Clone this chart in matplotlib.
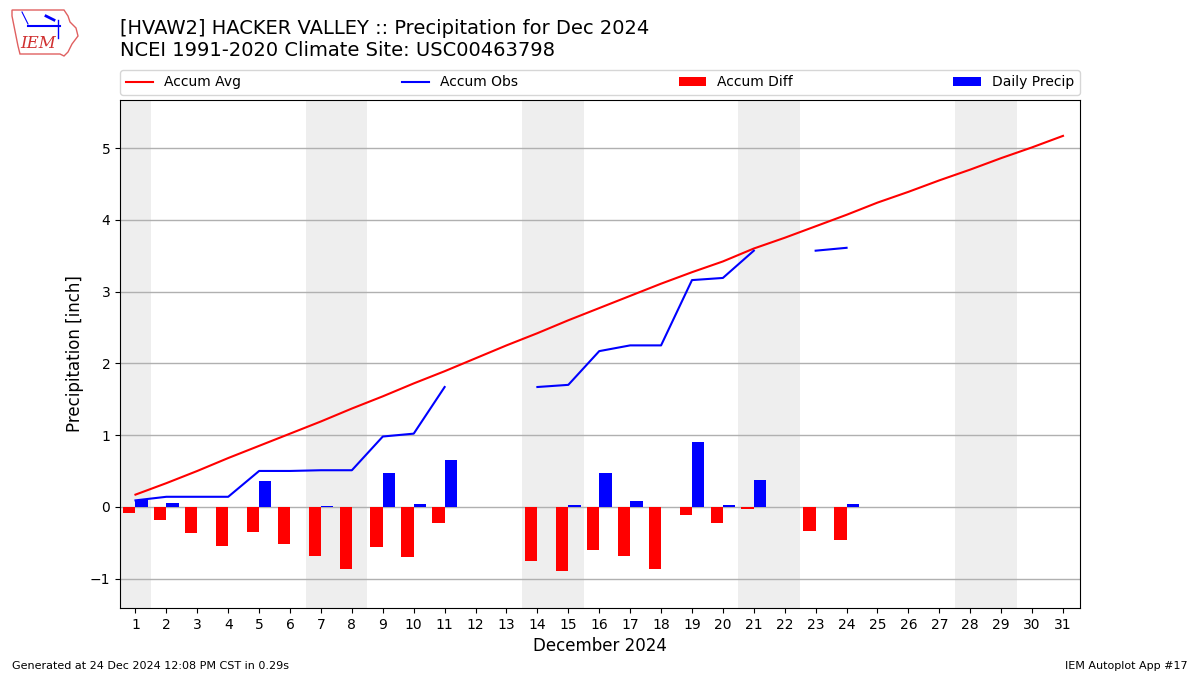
import numpy as np
import matplotlib
matplotlib.use("Agg")
import matplotlib.pyplot as plt
from matplotlib.patches import Polygon

days = list(range(1, 32))
accum_avg = [0.17, 0.33, 0.50, 0.68, 0.85, 1.02, 1.19, 1.37, 1.54, 1.72,
             1.89, 2.07, 2.25, 2.42, 2.60, 2.77, 2.94, 3.11, 3.27, 3.42,
             3.60, 3.75, 3.91, 4.07, 4.24, 4.39, 4.55, 4.70, 4.86, 5.01, 5.17]
nan = np.nan
daily_precip = [0.09, 0.05, 0.00, 0.00, 0.36, 0.00, 0.01, 0.00, 0.47, 0.04,
                0.65, nan, nan, 0.00, 0.03, 0.47, 0.08, 0.00, 0.91, 0.03,
                0.38, nan, 0.00, 0.04] + [nan] * 7
weekends = [1, 7, 8, 14, 15, 21, 22, 28, 29]
title_lines = ["[HVAW2] HACKER VALLEY :: Precipitation for Dec 2024",
               "NCEI 1991-2020 Climate Site: USC00463798"]

# accumulated observed, with gaps where data missing
accum_obs = []
tot = 0.0
for p in daily_precip:
    if np.isnan(p):
        accum_obs.append(nan)
    else:
        tot += p
        accum_obs.append(round(tot, 2))
accum_diff = [o - a if not np.isnan(o) else nan for o, a in zip(accum_obs, accum_avg)]

fig = plt.figure(figsize=(12, 6.75), dpi=100)
ax = fig.add_axes([0.1, 1 - 608 / 675, 0.8, 508 / 675])

for d in weekends:
    ax.axvspan(d - 0.5, d + 0.5, color="#eeeeee", zorder=0, lw=0)

ax.plot(days, accum_avg, color="red", lw=1.5, label="Accum Avg", zorder=3)
ax.plot(days, accum_obs, color="blue", lw=1.5, label="Accum Obs", zorder=3)
ax.bar(days, accum_diff, width=-0.4, align="edge", color="red", label="Accum Diff", zorder=2)
ax.bar(days, daily_precip, width=0.4, align="edge", color="blue", label="Daily Precip", zorder=2)

ax.set_xlim(0.5, 31.55)
ax.set_ylim(-1.41, 5.67)
ax.set_xticks(days)
ax.set_yticks(range(-1, 6))
ax.grid(axis="y", color="#b0b0b0", lw=1, zorder=1)
ax.set_axisbelow(True)
ax.set_xlabel("December 2024", fontsize=12)
ax.set_ylabel("Precipitation [inch]", fontsize=12)
ax.tick_params(labelsize=10)

ax.legend(bbox_to_anchor=(0, 1.01, 1, 0.05), loc="lower left", mode="expand",
          ncol=4, fontsize=10, borderaxespad=0)

fig.text(0.1, 1 - 29 / 675, title_lines[0], fontsize=14, va="center", ha="left")
fig.text(0.1, 1 - 51 / 675, title_lines[1], fontsize=14, va="center", ha="left")

fig.text(12 / 1200, 1 - 666 / 675, "Generated at 24 Dec 2024 12:08 PM CST in 0.29s",
         fontsize=8, va="center", ha="left")
fig.text(1188 / 1200, 1 - 666 / 675, "IEM Autoplot App #17",
         fontsize=8, va="center", ha="right")

# logo approximation
lax = fig.add_axes([8 / 1200, 1 - 58 / 675, 72 / 1200, 52 / 675])
lax.set_xlim(0, 72)
lax.set_ylim(52, 0)
lax.axis("off")
outline = [(4, 4), (56, 4), (60, 10), (62, 16), (68, 22), (70, 30), (64, 38),
           (60, 46), (56, 50), (52, 48), (12, 48), (10, 40), (8, 30), (6, 20), (4, 10)]
lax.add_patch(Polygon(outline, closed=True, fill=False, ec="#e06060", lw=1))
lax.plot([20, 52], [20, 20], color="blue", lw=1.5)
lax.plot([50, 50], [14, 32], color="blue", lw=1)
lax.plot([38, 46], [10, 14], color="blue", lw=2)
lax.plot([14, 20], [6, 18], color="blue", lw=0.8)
lax.text(12, 38, "IEM", color="#d03030", fontsize=12, family="DejaVu Serif",
         style="italic", va="center", ha="left")

fig.savefig("out.png", dpi=100)
